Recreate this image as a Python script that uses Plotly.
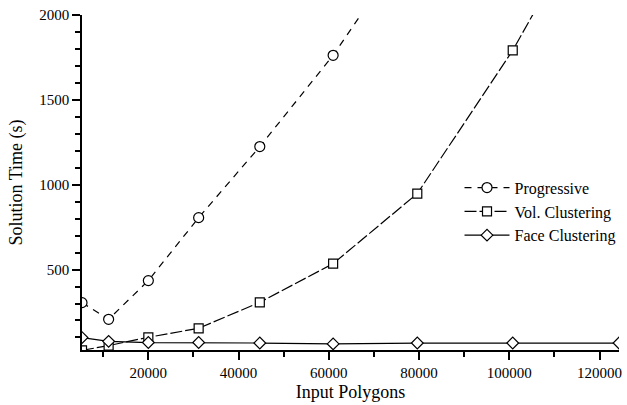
import plotly.graph_objects as go

# ---- data ----
prog_x = [5300, 11200, 20000, 31150, 44700, 60950, 79600]
prog_y = [305, 207, 435, 806, 1225, 1763, 2488]

vol_x = [5300, 11200, 20000, 31150, 44700, 60950, 79600, 100750, 124300]
vol_y = [24, 52, 101, 154, 307, 535, 948, 1792, 2906]

face_x = [5300, 11200, 20000, 31150, 44700, 60950, 79600, 100750, 124300]
face_y = [99, 77, 70, 70, 67, 62, 67, 67, 67]

x_title = "Input Polygons"
y_title = "Solution Time (s)"
names = ["Progressive", "Vol. Clustering", "Face Clustering"]

FONT = "Liberation Serif, Times New Roman, serif"

fig = go.Figure()
fig.add_trace(go.Scatter(
    x=prog_x, y=prog_y, name=names[0], mode="lines+markers",
    line=dict(color="black", width=1.2, dash="7px,6px"),
    marker=dict(symbol="circle", size=10, color="white",
                line=dict(color="black", width=1.2))))
fig.add_trace(go.Scatter(
    x=vol_x, y=vol_y, name=names[1], mode="lines+markers",
    line=dict(color="black", width=1.2, dash="12px,3px"),
    marker=dict(symbol="square", size=9, color="white",
                line=dict(color="black", width=1.2))))
fig.add_trace(go.Scatter(
    x=face_x, y=face_y, name=names[2], mode="lines+markers",
    line=dict(color="black", width=1.2),
    marker=dict(symbol="diamond", size=9, color="white",
                line=dict(color="black", width=1.2))))

axis_common = dict(
    showline=True, linecolor="black", linewidth=1.5, mirror=False,
    showgrid=False, zeroline=False,
    ticks="outside", ticklen=8, tickwidth=1.5, tickcolor="black",
    tickfont=dict(family=FONT, size=15, color="black"),
)

fig.update_xaxes(
    range=[5300, 124300], tick0=0, dtick=20000, tickformat="d",
    minor=dict(ticks="outside", dtick=10000, tick0=0, ticklen=5,
               tickwidth=1.5, tickcolor="black"),
    title=dict(text=x_title, font=dict(family=FONT, size=18, color="black"),
               standoff=6),
    **axis_common)
fig.update_yaxes(
    range=[26, 2000.5], tick0=0, dtick=500, tickformat="d",
    minor=dict(ticks="outside", dtick=100, tick0=0, ticklen=5,
               tickwidth=1.5, tickcolor="black"),
    title=dict(text=y_title, font=dict(family=FONT, size=18, color="black"),
               standoff=12),
    **axis_common)

fig.update_layout(
    width=627, height=405,
    margin=dict(l=82, r=5, t=15, b=55),
    paper_bgcolor="white", plot_bgcolor="white",
    font=dict(family=FONT, color="black"),
    showlegend=True,
    legend=dict(x=0.703, y=0.413, xanchor="left", yanchor="middle",
                bgcolor="rgba(0,0,0,0)", itemwidth=45,
                font=dict(family=FONT, size=16, color="black"),
                tracegroupgap=0),
)

fig.write_html("out.html",
               config={"displayModeBar": False},
               post_script="document.body.style.margin='0';"
                           "document.body.style.overflow='hidden';")
